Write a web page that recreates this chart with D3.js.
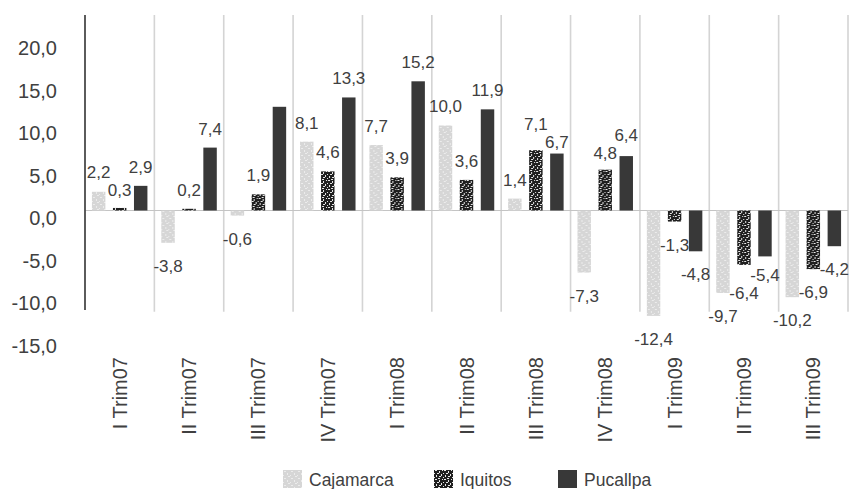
<!DOCTYPE html>
<html>
<head>
<meta charset="utf-8">
<script src="https://cdn.jsdelivr.net/npm/d3@7"></script>
<style>
  html, body { margin: 0; padding: 0; background: #fff; }
  svg { display: block; font-family: "Liberation Sans", Arial, sans-serif; }
</style>
</head>
<body>
<svg id="chart" width="852" height="489"></svg>
<script>
// ---- data ----
const categories = ["I Trim07","II Trim07","III Trim07","IV Trim07","I Trim08","II Trim08","III Trim08","IV Trim08","I Trim09","II Trim09","III Trim09"];
const seriesNames = ["Cajamarca","Iquitos","Pucallpa"];
const cajamarca = [2.2, -3.8, -0.6, 8.1, 7.7, 10.0, 1.4, -7.3, -12.4, -9.7, -10.2];
const iquitos   = [0.3, 0.2, 1.9, 4.6, 3.9, 3.6, 7.1, 4.8, -1.3, -6.4, -6.9];
const pucallpa  = [2.9, 7.4, 12.2, 13.3, 15.2, 11.9, 6.7, 6.4, -4.8, -5.4, -4.2];
const yTicks = [-15, -10, -5, 0, 5, 10, 15, 20];
const hiddenLabels = [["Pucallpa", "III Trim07"]];

const seriesValues = { Cajamarca: cajamarca, Iquitos: iquitos, Pucallpa: pucallpa };
const rows = categories.map((c, i) => ({ cat: c, values: seriesNames.map(s => ({ series: s, cat: c, value: seriesValues[s][i] })) }));

const svg = d3.select("#chart");
const defs = svg.append("defs");

// patterns
const pIq = defs.append("pattern").attr("id", "pat-iq").attr("patternUnits", "userSpaceOnUse").attr("width", 9).attr("height", 9);
pIq.append("rect").attr("width", 9).attr("height", 9).attr("fill", "#1f1f1f");
[[1,0,2,1],[5,1,1,2],[0,3,1,1],[3,3,2,1],[7,4,1,2],[2,5,1,2],[5,6,2,1],[0,7,1,1],[4,8,2,1],[8,0,1,1]].forEach(d => {
  pIq.append("rect").attr("x", d[0]).attr("y", d[1]).attr("width", d[2]).attr("height", d[3]).attr("fill", "#e8e8e8");
});
const pCa = defs.append("pattern").attr("id", "pat-ca").attr("patternUnits", "userSpaceOnUse").attr("width", 7).attr("height", 7);
pCa.append("rect").attr("width", 7).attr("height", 7).attr("fill", "#d6d6d6");
[[1,1,2,1],[4,3,1,2],[0,5,1,1],[5,6,2,1]].forEach(d => {
  pCa.append("rect").attr("x", d[0]).attr("y", d[1]).attr("width", d[2]).attr("height", d[3]).attr("fill", "#ececec");
});

const fills = { Cajamarca: "url(#pat-ca)", Iquitos: "url(#pat-iq)", Pucallpa: "#383838" };

// ---- scales ----
const x0 = d3.scaleBand().domain(categories).range([85, 848]).paddingInner(0.2).paddingOuter(0.1);
const x1 = d3.scaleBand().domain(seriesNames).range([0, x0.bandwidth()]).paddingInner(0.36).paddingOuter(0);
const y = d3.scaleLinear().domain([-15, 23]).range([338, 15]);

const loc = d3.formatLocale({ decimal: ",", thousands: ".", grouping: [3], currency: ["", ""], minus: "-" });
const fmt = loc.format(".1f");

const textColor = "#404040";

// ---- grid ----
const boundaries = categories.map(c => x0(c) - x0.step() * x0.paddingInner() / 2).concat([848]);
svg.append("g").selectAll("line").data(boundaries.slice(1)).join("line")
  .attr("x1", d => d).attr("x2", d => d)
  .attr("y1", y(23)).attr("y2", y(-11.9))
  .attr("stroke", "#d4d4d4").attr("stroke-width", 1.6);

// zero line
svg.append("line").attr("x1", 85).attr("x2", 848).attr("y1", y(0)).attr("y2", y(0))
  .attr("stroke", "#c4c4c4").attr("stroke-width", 1.2);

// ---- bars ----
const groups = svg.append("g").selectAll("g").data(rows).join("g")
  .attr("transform", d => `translate(${x0(d.cat)},0)`);

groups.selectAll("rect").data(d => d.values).join("rect")
  .attr("x", d => x1(d.series))
  .attr("width", x1.bandwidth())
  .attr("y", d => y(Math.max(0, d.value)))
  .attr("height", d => Math.abs(y(d.value) - y(0)))
  .attr("fill", d => fills[d.series]);

// ---- value labels (with simple collision avoidance inside each group) ----
const isHidden = d => hiddenLabels.some(h => h[0] === d.series && h[1] === d.cat);
const labelH = 14;
rows.forEach(r => {
  const labs = r.values.filter(v => !isHidden(v)).map(v => ({
    v, cx: x1(v.series) + x1.bandwidth() / 2,
    cy: v.value >= 0 ? y(v.value) - 19 : y(v.value) + 23,
    w: fmt(v.value).length * 8.6
  }));
  for (let it = 0; it < 20; it++) {
    let moved = false;
    for (let a = 0; a < labs.length; a++) for (let b = a + 1; b < labs.length; b++) {
      const A = labs[a], B = labs[b];
      const ox = (A.w + B.w) / 2 - Math.abs(A.cx - B.cx);
      const oy = labelH + 4 - Math.abs(A.cy - B.cy);
      if (ox > 0 && oy > 0) {
        const s = A.cy >= B.cy ? 1 : -1;
        A.cy += s * oy / 2; B.cy -= s * oy / 2; moved = true;
      }
    }
    if (!moved) break;
  }
  r.labels = labs;
});

groups.selectAll("text.val").data(d => d.labels).join("text")
  .attr("class", "val")
  .attr("x", d => d.cx)
  .attr("y", d => d.cy)
  .attr("dy", "0.35em")
  .attr("text-anchor", "middle")
  .attr("font-size", 17)
  .attr("fill", textColor)
  .text(d => fmt(d.v.value));

// ---- y axis ----
svg.append("line").attr("x1", 85).attr("x2", 85).attr("y1", y(23)).attr("y2", y(-11.7))
  .attr("stroke", "#4a4a4a").attr("stroke-width", 1.8);

svg.append("g").selectAll("text").data(yTicks).join("text")
  .attr("x", 57)
  .attr("y", d => y(d) + 7.5)
  .attr("dy", "0.35em")
  .attr("text-anchor", "end")
  .attr("font-size", 20)
  .attr("fill", textColor)
  .text(d => fmt(d));

// ---- x labels ----
svg.append("g").selectAll("text").data(categories).join("text")
  .attr("transform", d => `translate(${x0(d) + x0.bandwidth() / 2},357) rotate(-90)`)
  .attr("dy", "0.35em")
  .attr("text-anchor", "end")
  .attr("font-size", 20)
  .attr("fill", textColor)
  .text(d => d);

// ---- legend ----
const legendX = [283, 434, 558];
const legend = svg.append("g").selectAll("g").data(seriesNames).join("g")
  .attr("transform", (d, i) => `translate(${legendX[i]},470)`);
legend.append("rect").attr("width", 19).attr("height", 18).attr("fill", d => fills[d]);
legend.append("text").attr("x", 26).attr("y", 10).attr("dy", "0.35em")
  .attr("font-size", 17.5).attr("fill", textColor).text(d => d);
</script>
</body>
</html>
